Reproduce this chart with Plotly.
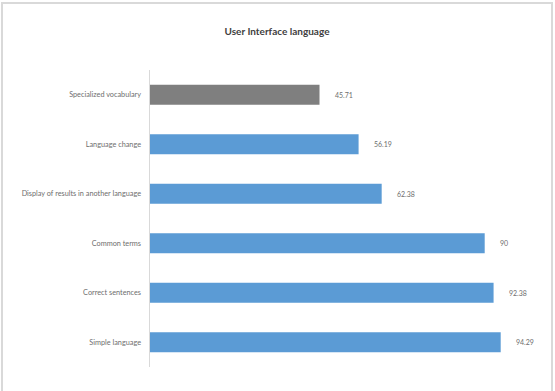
import plotly.graph_objects as go

# Survey results for user interface language features (percent)
categories = [
    "Simple language",
    "Correct sentences",
    "Common terms",
    "Display of results in another language",
    "Language change",
    "Specialized vocabulary",
]
values = [94.29, 92.38, 90, 62.38, 56.19, 45.71]
value_labels = ["94.29", "92.38", "90", "62.38", "56.19", "45.71"]
bar_colors = ["#5B9BD5", "#5B9BD5", "#5B9BD5", "#5B9BD5", "#5B9BD5", "#7F7F7F"]

W, H = 555, 391
ML, MR, MT, MB = 149, 33, 70, 24
PW, PH = W - ML - MR, H - MT - MB

FONT = "Lato"
TXT = "#6E6E6E"

fig = go.Figure()
fig.add_trace(go.Bar(
    y=categories,
    x=values,
    orientation="h",
    marker=dict(color=bar_colors, line=dict(width=0)),
    width=0.4,
    hoverinfo="skip",
))

# value labels to the right of each bar
for cat, v, lab in zip(categories, values, value_labels):
    fig.add_annotation(
        x=v, y=cat, text=lab, showarrow=False,
        xanchor="left", yanchor="middle", xshift=13,
        font=dict(family=FONT, size=7, color=TXT),
    )

# outer chart frame
def px_x(p):
    return (p - ML) / PW

def px_y(p):
    return 1 - (p - MT) / PH

fig.add_shape(
    type="path", xref="paper", yref="paper",
    path=f"M {px_x(2)},{px_y(H + 5)} L {px_x(2)},{px_y(3)} L {px_x(552)},{px_y(3)} L {px_x(552)},{px_y(H + 5)}",
    line=dict(color="#D9D9D9", width=2),
)

fig.update_layout(
    width=W, height=H,
    margin=dict(l=ML, r=MR, t=MT, b=MB),
    paper_bgcolor="white",
    plot_bgcolor="white",
    showlegend=False,
    bargap=0.6,
    title=dict(
        text="<b>User Interface language</b>",
        x=(277) / W, xanchor="center",
        y=1 - 31 / H, yanchor="middle",
        font=dict(family=FONT, size=10, color="#404040"),
    ),
    xaxis=dict(
        range=[0, 100], visible=False, fixedrange=True,
    ),
    yaxis=dict(
        showgrid=False, zeroline=False,
        showline=False,
        ticks="", ticklabelstandoff=7,
        tickfont=dict(family=FONT, size=7.3, color=TXT),
        fixedrange=True,
    ),
)

# vertical category axis line
fig.add_shape(
    type="line", xref="x", yref="paper",
    x0=0, x1=0, y0=0, y1=1,
    line=dict(color="#D9D9D9", width=2),
)

fig.write_html("out.html", config={"displayModeBar": False})
